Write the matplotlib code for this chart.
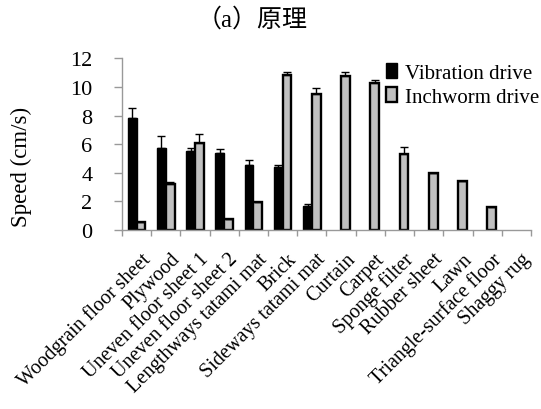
import numpy as np
import matplotlib
matplotlib.use("Agg")
import matplotlib.pyplot as plt

surfaces = ["Woodgrain floor sheet", "Plywood", "Uneven floor sheet 1",
            "Uneven floor sheet 2", "Lengthways tatami mat", "Brick",
            "Sideways tatami mat", "Curtain", "Carpet", "Sponge filter",
            "Rubber sheet", "Lawn", "Triangle-surface floor", "Shaggy rug"]

# vibration drive only works on the first seven surfaces
vib_speed = [7.83, 5.75, 5.5, 5.38, 4.57, 4.43, 1.7]
vib_err = [0.72, 0.82, 0.25, 0.3, 0.33, 0.14, 0.1]

inch_speed = [0.58, 3.24, 6.08, 0.79, 1.98, 10.84, 9.51, 10.79, 10.27, 5.3,
              3.96, 3.4, 1.6, 0.0]
inch_err = [0.0, 0.14, 0.62, 0.0, 0.0, 0.23, 0.39, 0.28, 0.23, 0.52,
            0.0, 0.05, 0.0, 0.0]

yticks = [0, 2, 4, 6, 8, 10, 12]

plt.rcParams['font.family'] = ['Liberation Serif', 'Noto Sans CJK SC']

fig = plt.figure(figsize=(5.41, 4.10), dpi=100)
ax = fig.add_axes([0.2255, 0.4366, 0.756, 0.4188])

x = np.arange(len(surfaces))
w = 0.3
xv = np.arange(len(vib_speed))

ax.bar(xv - w / 2, vib_speed, w, color='black', edgecolor='black',
       linewidth=1.0, label='Vibration drive')
ax.errorbar(xv - w / 2, vib_speed, yerr=[np.zeros(len(vib_err)), vib_err],
            fmt='none', ecolor='black', elinewidth=1.0, capsize=3, capthick=1.0)

keep = [i for i in range(len(inch_speed)) if inch_speed[i] > 0]
ax.bar(x[keep] + w / 2, [inch_speed[i] for i in keep], w, color='#c0c0c0',
       edgecolor='black', linewidth=1.7, label='Inchworm drive')
ax.errorbar(x[keep] + w / 2, [inch_speed[i] for i in keep],
            yerr=[np.zeros(len(keep)), [inch_err[i] for i in keep]],
            fmt='none', ecolor='black', elinewidth=1.0, capsize=3, capthick=1.0)

ax.set_xlim(-0.5, len(surfaces) - 0.5)
ax.set_ylim(0, 12)
ax.set_yticks(yticks)
ax.set_yticklabels([str(t) for t in yticks], fontsize=16)
ax.tick_params(axis='y', length=5.8, width=1, color='#999999', pad=15.5)

ax.set_xticks(x + 0.15)
ax.set_xticklabels(surfaces, rotation=45, ha='right', va='top',
                   rotation_mode='anchor', fontsize=14.5)
ax.tick_params(axis='x', length=0, pad=14)
ax.set_xticks(np.arange(len(surfaces) + 1) - 0.5, minor=True)
ax.tick_params(axis='x', which='minor', length=4, width=1, color='#999999')

for side in ['top', 'right']:
    ax.spines[side].set_visible(False)
for side in ['left', 'bottom']:
    ax.spines[side].set_color('#999999')
    ax.spines[side].set_linewidth(1.0)

ax.legend(loc='upper right', bbox_to_anchor=(1.04, 1.02), frameon=False,
          fontsize=15, handlelength=0.55, handleheight=0.7,
          handletextpad=0.35, labelspacing=0.2, borderaxespad=0)

fig.text(21 / 541, 1 - 166.5 / 410, 'Speed (cm/s)', rotation=90,
         ha='center', va='center', fontsize=16.5)
fig.text(252 / 541, 1 - 20 / 410, '（a）原理', ha='center', va='center',
         fontsize=18)

fig.savefig('out.png', dpi=100)
